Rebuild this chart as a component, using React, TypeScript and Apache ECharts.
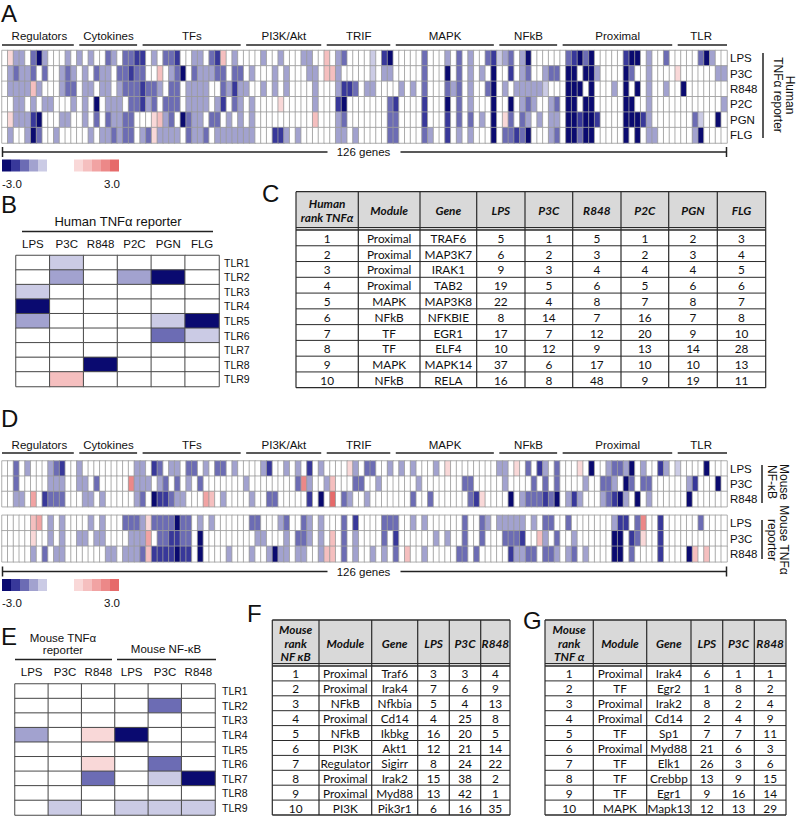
import React, { useEffect, useRef } from 'react';
import * as echarts from 'echarts';

// ---------------- labels ----------------
const moduleNames = ['Regulators', 'Cytokines', 'TFs', 'PI3K/Akt', 'TRIF', 'MAPK', 'NFkB', 'Proximal', 'TLR'];
const moduleSizes = [13, 11, 18, 14, 12, 18, 11, 20, 9];
const humanStimuli = ['LPS', 'P3C', 'R848', 'P2C', 'PGN', 'FLG'];
const mouseStimuli = ['LPS', 'P3C', 'R848'];
const tlrNames = ['TLR1', 'TLR2', 'TLR3', 'TLR4', 'TLR5', 'TLR6', 'TLR7', 'TLR8', 'TLR9'];
const scaleTicks = ['-3.0', '3.0'];
const geneCountLabel = '126 genes';

// colour levels: '5'..'1' blue (dark->light), '0' white, 'a'..'e' red (light->dark)
// ---------------- panel A: human TNFa reporter (one string per module) ----------------
const humanLPS = ['0a22035200020', '20200320334', '40203340022034b020', '00020020002200', 'b02300001045', '000003000203020034', '12302500000', '03453500000455020030', '000035200'];
const humanP3C = ['0232230300232', '02032203343', '300b02350322233033', '02000202000220', 'bb2000001022', '000003000503020205', '00402300233', '05505520000530020000', 'a00000022'];
const humanR848 = ['02222b2000233', '02202202333', '433203302222003242', '20020202000020', '002443022000', '020203000323020035', '02022222100', '05550500020505020020', '050000000'];
const humanP2C = ['0022020220002', '02050222033', '423033302222024032', '020000a0000020', '004500000003', '400004000503020005', '00502320023', '05505500000550020000', '000000002'];
const humanPGN = ['0a22245000220', '02030322330', '00ab23053220330202', '020000000000b0', '002300000003', '300004000403030205', '0a303202022', '05545540000555420000', '000310050'];
const humanFLG = ['0200253002000', '00202232330', '23a222203223022222', '22000442020000', '002202000003', '300003200402020005', '03343500023', '05535500000505022000', '000250000'];

// ---------------- panel D: mouse NF-kB (top) and mouse TNFa reporter (bottom) ----------------
const nfLPS = ['0030200023400', '20000000002', '204302203302033020', '00024002020402', '0000a2033002', '020200020a00000000', '220a0304203', '000a0500233250200420', '100005000'];
const nfP3C = ['0030000022200', '220300000d2', '220230302030000000', '2000000003d200', '2b0003300200', '000020000000330000', '02000030303', '00002003320530330000', '002400050'];
const nfR848 = ['00220c0433300', '02202000002', '30544322000cb02000', '02003300000405', '0e0320020000', '000300300000034a00', '00502333435', '02420002345205020000', '005000000'];
const tnfLPS = ['00000bc020200', '00202000333', '2a3333533020200000', '03300023003202', '000304000033', '300202000000300320', '22222020330', '03000000024403d00400', '000030000'];
const tnfP3C = ['00000a0020200', '22022000022', '2c0334433050000000', '00220002033202', '0b0302000030', '400000020200300300', '0333400b203', '00200000055043a00400', '000000000'];
const tnfR848 = ['0000020302200', '00000220222', '3b4444544050000200', '02002522022002', 'bb0302002020', '30b002000003303000', '00422330332', '02302000055030000400', '005b0b000'];

// ---------------- panel B / E: TLR knock-downs ----------------
const humanTLR = ['010000', '020250', '100000', '500000', '200015', '000031', '000000', '005000', '0b0000'];
const mouseTLR = ['000000', '000030', '000000', '20a500', '000000', '00a030', '003015', '000000', '010111'];

// ---------------- tables ----------------
const cHeaders = ['Human\nrank TNFα', 'Module', 'Gene', 'LPS', 'P3C', 'R848', 'P2C', 'PGN', 'FLG'];
const cRank = [1, 2, 3, 4, 5, 6, 7, 8, 9, 10];
const cModule = ['Proximal', 'Proximal', 'Proximal', 'Proximal', 'MAPK', 'NFkB', 'TF', 'TF', 'MAPK', 'NFkB'];
const cGene = ['TRAF6', 'MAP3K7', 'IRAK1', 'TAB2', 'MAP3K8', 'NFKBIE', 'EGR1', 'ELF4', 'MAPK14', 'RELA'];
const cLPS = [5, 6, 9, 19, 22, 8, 17, 10, 37, 16];
const cP3C = [1, 2, 3, 5, 4, 14, 7, 12, 6, 8];
const cR848 = [5, 3, 4, 6, 8, 7, 12, 9, 17, 48];
const cP2C = [1, 2, 4, 5, 7, 16, 20, 13, 10, 9];
const cPGN = [2, 3, 4, 6, 8, 7, 9, 14, 10, 19];
const cFLG = [3, 4, 5, 6, 7, 8, 10, 28, 13, 11];

const fHeaders = ['Mouse\nrank\nNF κB', 'Module', 'Gene', 'LPS', 'P3C', 'R848'];
const fRank = [1, 2, 3, 4, 5, 6, 7, 8, 9, 10];
const fModule = ['Proximal', 'Proximal', 'NFkB', 'Proximal', 'NFkB', 'PI3K', 'Regulator', 'Proximal', 'Proximal', 'PI3K'];
const fGene = ['Traf6', 'Irak4', 'Nfkbia', 'Cd14', 'Ikbkg', 'Akt1', 'Sigirr', 'Irak2', 'Myd88', 'Pik3r1'];
const fLPS = [3, 7, 5, 4, 16, 12, 8, 15, 13, 6];
const fP3C = [3, 6, 4, 25, 20, 21, 24, 38, 42, 16];
const fR848 = [4, 9, 13, 8, 5, 14, 22, 2, 1, 35];

const gHeaders = ['Mouse\nrank\nTNF α', 'Module', 'Gene', 'LPS', 'P3C', 'R848'];
const gRank = [1, 2, 3, 4, 5, 6, 7, 8, 9, 10];
const gModule = ['Proximal', 'TF', 'Proximal', 'Proximal', 'TF', 'Proximal', 'TF', 'TF', 'TF', 'MAPK'];
const gGene = ['Irak4', 'Egr2', 'Irak2', 'Cd14', 'Sp1', 'Myd88', 'Elk1', 'Crebbp', 'Egr1', 'Mapk13'];
const gLPS = [6, 1, 8, 2, 7, 21, 26, 13, 9, 12];
const gP3C = [1, 8, 2, 4, 7, 6, 3, 9, 16, 13];
const gR848 = [1, 2, 4, 9, 11, 3, 6, 15, 14, 29];

// ---------------- colour scale ----------------
const levelColors = ['#0a0a70', '#38389a', '#6c6cb4', '#a2a2cf', '#cbcbe5', '#ffffff', '#ffffff', '#ffffff', '#f9d8d8', '#f5bfbf', '#f1a3a3', '#ec8888', '#e66a6a'];
const STEP = 6 / 13;
const levelIndex: Record<string, number> = { '5': 0, '4': 1, '3': 2, '2': 3, '1': 4, '0': 6, a: 8, b: 9, c: 10, d: 11, e: 12 };
const levelValue = (ch: string) => -3 + ((levelIndex[ch] ?? 6) + 0.5) * STEP;

const joinModules = (parts: string[]) =>
  parts.map((p, i) => (p + '0'.repeat(moduleSizes[i])).slice(0, moduleSizes[i])).join('');

const cells = (rows: string[]) => {
  const out: number[][] = [];
  rows.forEach((row, r) => {
    row.split('').forEach((ch, c) => out.push([c, r, levelValue(ch)]));
  });
  return out;
};

const FONT = "'Liberation Sans', Arial, sans-serif";
const TFONT = "Lato, 'Open Sans', sans-serif";

function buildTable(
  xs: number[], top: number, headH: number, rowH: number, headers: string[], cols: (string | number)[][], fontSize: number
) {
  const els: any[] = [];
  const left = xs[0];
  const right = xs[xs.length - 1];
  const nRows = cols[0].length;
  const bodyTop = top + headH;
  const bottom = bodyTop + nRows * rowH;
  const stroke = '#2a2a2a';
  els.push({ type: 'rect', shape: { x: left, y: top, width: right - left, height: headH }, style: { fill: '#d9d9d9', stroke: 'none' } });
  headers.forEach((h, i) => {
    els.push({
      type: 'text', x: (xs[i] + xs[i + 1]) / 2, y: top + headH / 2,
      style: { text: h, fill: '#111', font: `italic bold ${fontSize}px ${TFONT}`, align: 'center', verticalAlign: 'middle', lineHeight: fontSize + 2 },
    });
  });
  cols.forEach((col, ci) => {
    col.forEach((v, ri) => {
      els.push({
        type: 'text', x: (xs[ci] + xs[ci + 1]) / 2, y: bodyTop + (ri + 0.5) * rowH + 0.5,
        style: { text: String(v), fill: '#111', font: `${fontSize}px ${TFONT}`, align: 'center', verticalAlign: 'middle' },
      });
    });
  });
  xs.forEach((x) => {
    els.push({ type: 'line', shape: { x1: x, y1: top, x2: x, y2: bottom }, style: { stroke, lineWidth: 1.2 } });
  });
  for (let r = 0; r <= nRows; r++) {
    const y = bodyTop + r * rowH;
    els.push({ type: 'line', shape: { x1: left, y1: y, x2: right, y2: y }, style: { stroke, lineWidth: r === 0 || r === nRows ? 1.3 : 1 } });
  }
  els.push({ type: 'line', shape: { x1: left, y1: bodyTop - 2.5, x2: right, y2: bodyTop - 2.5 }, style: { stroke, lineWidth: 1 } });
  els.push({ type: 'line', shape: { x1: left, y1: top, x2: right, y2: top }, style: { stroke, lineWidth: 1.3 } });
  return els;
}

function buildOption() {
  const humanRows = [humanLPS, humanP3C, humanR848, humanP2C, humanPGN, humanFLG].map(joinModules);
  const nfRows = [nfLPS, nfP3C, nfR848].map(joinModules);
  const tnfRows = [tnfLPS, tnfP3C, tnfR848].map(joinModules);
  const nGenes = humanRows[0].length;
  const geneIdx = Array.from({ length: nGenes }, (_, i) => String(i));

  const HM_LEFT = 2;
  const HM_W = 725;
  const COLW = HM_W / nGenes;

  const grids = [
    { left: HM_LEFT, top: 50.5, width: HM_W, height: 92.5 },
    { left: 16, top: 255.5, width: 203, height: 131 },
    { left: HM_LEFT, top: 461, width: HM_W, height: 45.7 },
    { left: HM_LEFT, top: 515.3, width: HM_W, height: 46.5 },
    { left: 15, top: 684, width: 200, height: 131 },
  ].map((g) => ({ ...g, containLabel: false, outerBoundsMode: 'none' }));

  const hiddenX = (gi: number) => ({ gridIndex: gi, type: 'category', data: geneIdx, show: false });
  const topX = (gi: number, data: string[]) => ({
    gridIndex: gi, type: 'category', data, position: 'top',
    axisLine: { show: false }, axisTick: { show: false },
    axisLabel: { interval: 0, margin: 6, fontSize: 11.5, color: '#111', fontFamily: FONT },
  });
  const rightY = (gi: number, data: string[], margin: number, size: number) => ({
    gridIndex: gi, type: 'category', data, inverse: true, position: 'right',
    axisLine: { show: false }, axisTick: { show: false }, splitLine: { show: false },
    axisLabel: { interval: 0, margin, fontSize: size, color: '#111', fontFamily: FONT },
  });

  const hm = (xi: number, data: number[][], border: string, bw: number) => ({
    type: 'heatmap', xAxisIndex: xi, yAxisIndex: xi, data,
    itemStyle: { borderColor: border, borderWidth: bw },
    emphasis: { disabled: true }, silent: true,
  });

  const pieces = levelColors.map((c, i) => ({ gte: -3 + i * STEP, lt: -3 + (i + 1) * STEP + (i === 12 ? 0.01 : 0), color: c }));
  const vm = (seriesIndex: number[], top: number) => ({
    type: 'piecewise', seriesIndex, pieces, orient: 'horizontal', left: 2, top,
    itemWidth: 9, itemHeight: 12, itemGap: 0, showLabel: false, itemSymbol: 'rect', padding: 0,
    selectedMode: false, hoverLink: false, textStyle: { fontSize: 0 },
  });

  const g: any[] = [];
  const txt = (text: string, x: number, y: number, size: number, align = 'left', extra: any = {}) => {
    const { style: extraStyle, ...rest } = extra;
    g.push({ type: 'text', x, y, ...rest, style: { text, fill: '#111', font: `${size}px ${FONT}`, align, verticalAlign: 'middle', lineHeight: size, ...(extraStyle || {}) } });
  };
  const ln = (x1: number, y1: number, x2: number, y2: number, w = 1.5) =>
    g.push({ type: 'line', shape: { x1, y1, x2, y2 }, style: { stroke: '#222', lineWidth: w } });

  // panel letters
  txt('A', 1, 13, 24);
  txt('B', 1, 204, 24);
  txt('C', 262, 193, 24);
  txt('D', 1, 418, 24);
  txt('E', 1, 636, 24);
  txt('F', 247, 613, 24);
  txt('G', 523, 620, 24);

  // module headers above heatmaps A and D
  const moduleHeaders = (textY: number, lineY: number) => {
    let start = 0;
    moduleSizes.forEach((n, i) => {
      const x0 = HM_LEFT + start * COLW;
      const x1 = HM_LEFT + (start + n) * COLW;
      txt(moduleNames[i], (x0 + x1) / 2, textY, 11.5, 'center');
      ln(i === 0 ? x0 : x0 + 2.5, lineY, i === moduleSizes.length - 1 ? x1 : x1 - 3, lineY, 1.5);
      start += n;
    });
  };
  moduleHeaders(36, 45);
  moduleHeaders(445, 453);

  // "126 genes" brackets
  const bracket = (y: number) => {
    const x0 = HM_LEFT;
    const x1 = HM_LEFT + HM_W;
    const mid = 363.5;
    ln(x0, y, mid - 36, y, 1.5);
    ln(mid + 37, y, x1, y, 1.5);
    ln(x0 + 0.5, y - 5, x0 + 0.5, y + 5, 1.5);
    ln(x1 - 0.5, y - 5, x1 - 0.5, y + 5, 1.5);
    txt(geneCountLabel, mid, y, 11.5, 'center');
  };
  bracket(152);
  bracket(571.5);

  // colour-bar tick labels
  txt(scaleTicks[0], 2, 184, 11.5, 'left');
  txt(scaleTicks[1], 120, 184, 11.5, 'right');
  txt(scaleTicks[0], 2, 603, 11.5, 'left');
  txt(scaleTicks[1], 120, 603, 11.5, 'right');

  // right-hand side labels
  ln(763, 53, 763, 138, 1.5);
  txt('Human\nTNFα reporter', 784, 95, 12, 'center', { rotation: -Math.PI / 2, style: { lineHeight: 12 } });
  ln(762, 465, 762, 503, 1.5);
  txt('Mouse\nNF-κB', 778, 482, 12, 'center', { rotation: -Math.PI / 2, style: { lineHeight: 12 } });
  ln(762, 520, 762, 559, 1.5);
  txt('Mouse TNFα\nreporter', 778, 540, 12, 'center', { rotation: -Math.PI / 2, style: { lineHeight: 12 } });

  // panel B title
  txt('Human TNFα reporter', 118, 221, 13, 'center');
  ln(22, 231.5, 213, 231.5, 1.5);

  // panel E titles
  txt('Mouse TNFα', 63, 638, 11.5, 'center');
  txt('reporter', 63, 650, 11.5, 'center');
  ln(15, 659.5, 112, 659.5, 1.5);
  txt('Mouse NF-κB', 166, 649, 11.5, 'center');
  ln(117, 659.5, 216, 659.5, 1.5);

  // tables
  g.push(...buildTable([296, 358.3, 420, 476.7, 525, 572.7, 621, 668.7, 717.3, 765.7], 191.7, 38.3, 15.77, cHeaders,
    [cRank, cModule, cGene, cLPS, cP3C, cR848, cP2C, cPGN, cFLG], 11.8));
  g.push(...buildTable([272.3, 319, 371.7, 417.7, 449.3, 480.7, 510], 620, 46, 14.9, fHeaders,
    [fRank, fModule, fGene, fLPS, fP3C, fR848], 11.8));
  g.push(...buildTable([545, 593.3, 646.7, 691, 722.7, 754.3, 786], 620, 46, 14.9, gHeaders,
    [gRank, gModule, gGene, gLPS, gP3C, gR848], 11.8));

  return {
    animation: false,
    backgroundColor: '#ffffff',
    grid: grids,
    xAxis: [hiddenX(0), topX(1, humanStimuli), hiddenX(2), hiddenX(3), topX(4, [...mouseStimuli, ...mouseStimuli])],
    yAxis: [rightY(0, humanStimuli, 3, 11.5), rightY(1, tlrNames, 5, 10.5), rightY(2, mouseStimuli, 3, 11.5), rightY(3, mouseStimuli, 3, 11.5), rightY(4, tlrNames, 7, 10.5)],
    visualMap: [vm([0, 1], 159.5), vm([2, 3, 4], 579)],
    series: [
      hm(0, cells(humanRows), '#9a9a9a', 0.8),
      hm(1, cells(humanTLR), '#4a4a4a', 1),
      hm(2, cells(nfRows), '#9a9a9a', 0.8),
      hm(3, cells(tnfRows), '#9a9a9a', 0.8),
      hm(4, cells(mouseTLR), '#4a4a4a', 1),
    ],
    graphic: { elements: g },
  };
}

export default function App() {
  const ref = useRef<HTMLDivElement>(null);
  useEffect(() => {
    if (!ref.current) return;
    const chart = echarts.init(ref.current, null, { renderer: 'svg' });
    chart.setOption(buildOption() as any);
    return () => chart.dispose();
  }, []);
  return <div ref={ref} style={{ position: 'absolute', left: 0, top: 0, width: 800, height: 816, background: '#fff' }} />;
}
